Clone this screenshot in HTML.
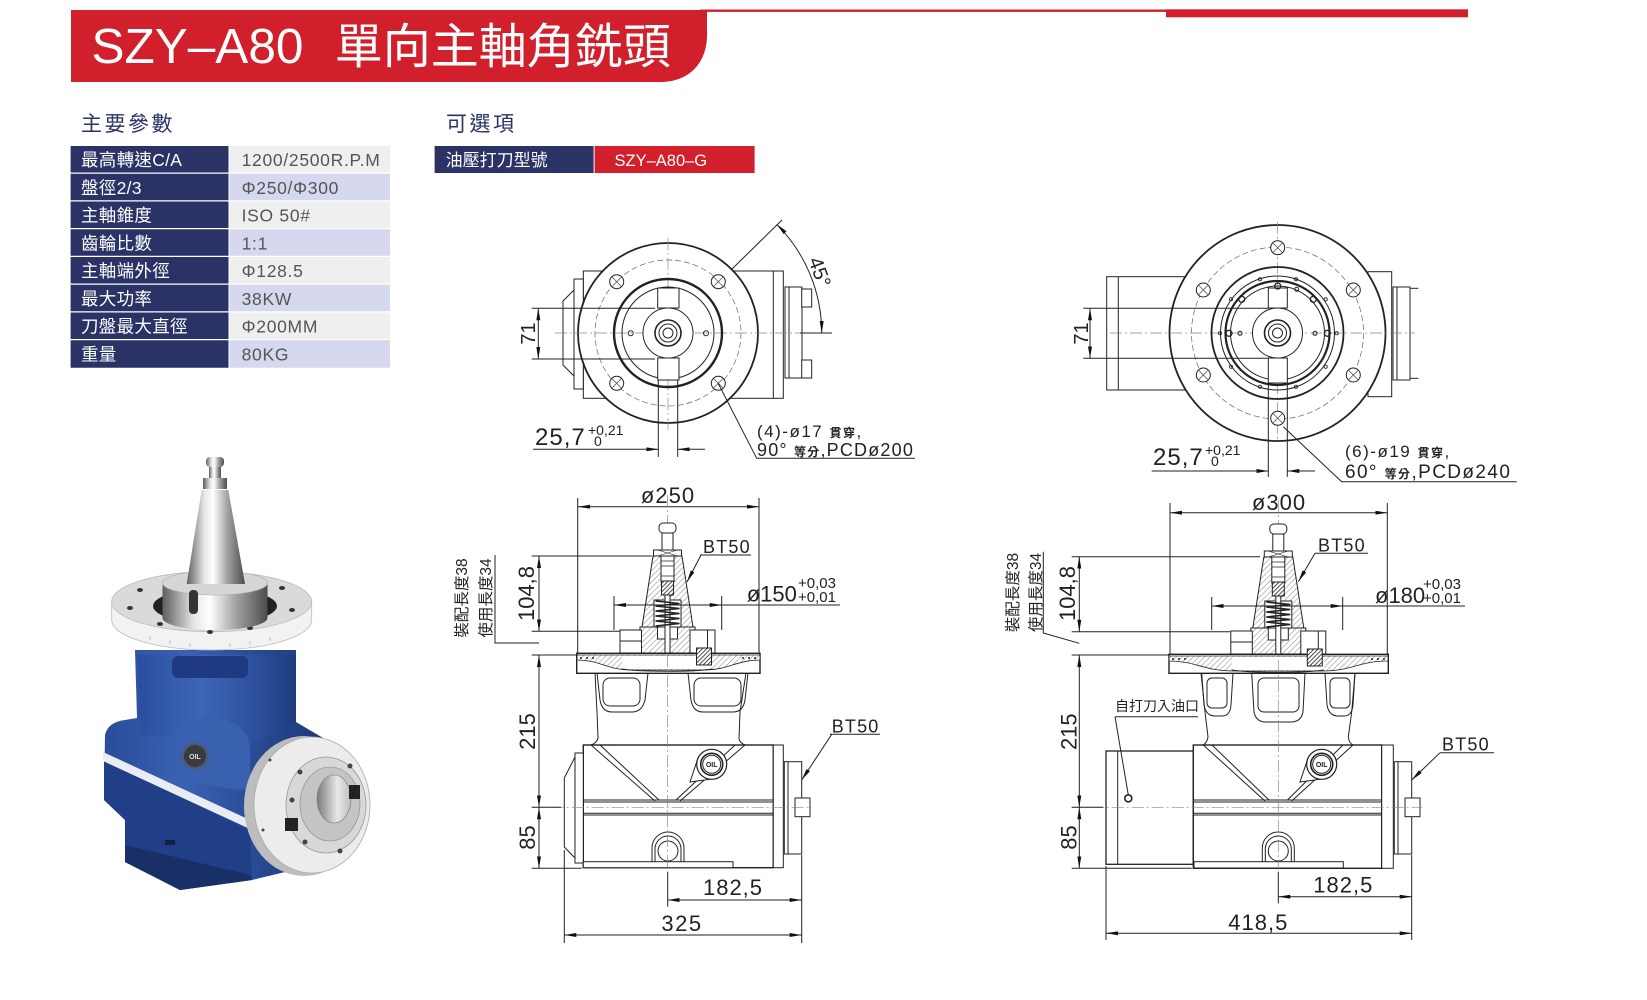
<!DOCTYPE html>
<html><head><meta charset="utf-8"><style>
html,body{margin:0;padding:0;background:#fff;}
svg{display:block;}
text{font-family:"Liberation Sans","Noto Sans CJK TC",sans-serif;}
</style></head><body>
<svg width="1647" height="1000" viewBox="0 0 1647 1000" xmlns="http://www.w3.org/2000/svg">
<defs>
 <marker id="ar" viewBox="0 0 12 4" refX="12" refY="2" markerWidth="12" markerHeight="4" markerUnits="userSpaceOnUse" orient="auto-start-reverse"><path d="M0,0 L12,2 L0,4 Z" fill="#111"/></marker>
 <pattern id="h" width="4" height="4" patternUnits="userSpaceOnUse" patternTransform="rotate(45)"><rect width="4" height="4" fill="#fff"/><line x1="0" y1="0" x2="0" y2="4" stroke="#777" stroke-width="0.9"/></pattern>
 <pattern id="hd" width="3" height="3" patternUnits="userSpaceOnUse" patternTransform="rotate(45)"><rect width="3" height="3" fill="#fff"/><line x1="0" y1="0" x2="0" y2="3" stroke="#111" stroke-width="1.5"/></pattern>
 <linearGradient id="metal" x1="0" y1="0" x2="1" y2="0"><stop offset="0" stop-color="#5e5e5e"/><stop offset=".3" stop-color="#e6e6e6"/><stop offset=".45" stop-color="#ffffff"/><stop offset=".7" stop-color="#a2a2a2"/><stop offset="1" stop-color="#4c4c4c"/></linearGradient>
 <linearGradient id="blueG" x1="0" y1="0" x2="1" y2="0"><stop offset="0" stop-color="#2a4c9a"/><stop offset=".35" stop-color="#3a62b4"/><stop offset=".7" stop-color="#26488f"/><stop offset="1" stop-color="#1b3575"/></linearGradient>
 <linearGradient id="neckG" x1="0" y1="0" x2="1" y2="0"><stop offset="0" stop-color="#2b4e9e"/><stop offset=".4" stop-color="#3d66b8"/><stop offset=".8" stop-color="#2a4c98"/><stop offset="1" stop-color="#1e3a7c"/></linearGradient>
 <linearGradient id="bore" x1="0" y1="0" x2="1" y2="0"><stop offset="0" stop-color="#7a7a7a"/><stop offset=".6" stop-color="#e8e8e8"/><stop offset="1" stop-color="#bdbdbd"/></linearGradient>
 <g id="hx"><circle r="7" fill="#fff" stroke="#222" stroke-width="1"/><path d="M-4.5,-4.5 L4.5,4.5 M4.5,-4.5 L-4.5,4.5" stroke="#444" stroke-width="0.7"/></g>
 <g id="tool" stroke="#222" stroke-width="1">
  <rect x="-8.5" y="523" width="17" height="10" rx="4" fill="#fff"/>
  <rect x="-5.5" y="533" width="11" height="17" fill="#fff"/>
  <rect x="-14" y="550" width="28" height="6" fill="#fff"/>
  <path d="M-10,550 L10,556 M10,550 L-10,556" stroke-width="0.6"/>
  <polygon points="-14.5,556 14.5,556 25.5,627 -25.5,627" fill="url(#h)"/>
  <rect x="-6.5" y="556" width="13" height="26" fill="#fff"/>
  <path d="M-6.5,561 H6.5 M-6.5,566 H6.5 M-6.5,576 H6.5" stroke-width="0.7" fill="none"/>
  <rect x="-6" y="581" width="12" height="14" fill="url(#hd)"/>
  <polygon points="-27.5,627 27.5,627 27.5,637 37.5,637 37.5,653 -37.5,653 -37.5,637 -27.5,637" fill="url(#h)"/>
  <rect x="-13.5" y="600" width="27" height="27" fill="#fff"/>
  <rect x="-10" y="627" width="20" height="12" fill="#fff"/>
  <rect x="-2.5" y="595" width="5" height="58" fill="#fff"/>
  <polyline points="-12,601 12,603.5 -12,606 12,608.5 -12,611 12,613.5 -12,616 12,618.5 -12,621 12,623.5 -12,626" fill="none" stroke-width="1.6"/>
  <rect x="-47.5" y="630" width="21.5" height="23" fill="#fff"/>
  <line x1="-47.5" y1="641" x2="-26" y2="641"/>
  <rect x="22.5" y="630" width="25" height="23" fill="#fff"/>
  <line x1="40" y1="630" x2="40" y2="653"/>
  <rect x="29" y="648" width="15" height="17" fill="url(#hd)"/>
 </g>
</defs>

<!-- ===== Banner ===== -->
<path d="M71,10 H707 V35 C707,62 690,82 660,82 H71 Z" fill="#d1202b"/>
<rect x="700" y="9.5" width="470" height="2.4" fill="#d1202b"/>
<rect x="1166" y="9.3" width="302" height="8" fill="#d1202b"/>
<text x="91.5" y="63" font-size="49.5" fill="#fff">SZY–A80</text>
<text x="334.7" y="63" font-size="48" fill="#fff">單向主軸角銑頭</text>

<!-- ===== Headings ===== -->
<text x="81" y="131" font-size="21" fill="#2b3266" letter-spacing="2.5">主要參數</text>
<text x="446" y="131" font-size="21" fill="#2b3266" letter-spacing="2.5">可選項</text>

<!-- ===== Spec table ===== -->
<g font-size="17.5">
 <rect x="70.6" y="146" width="157.9" height="26.5" fill="#2b3266"/><rect x="229.5" y="146" width="160.5" height="26.5" fill="#efefef"/>
 <rect x="70.6" y="173.75" width="157.9" height="26.5" fill="#2b3266"/><rect x="229.5" y="173.75" width="160.5" height="26.5" fill="#d5d8ee"/>
 <rect x="70.6" y="201.5" width="157.9" height="26.5" fill="#2b3266"/><rect x="229.5" y="201.5" width="160.5" height="26.5" fill="#efefef"/>
 <rect x="70.6" y="229.25" width="157.9" height="26.5" fill="#2b3266"/><rect x="229.5" y="229.25" width="160.5" height="26.5" fill="#d5d8ee"/>
 <rect x="70.6" y="257" width="157.9" height="26.5" fill="#2b3266"/><rect x="229.5" y="257" width="160.5" height="26.5" fill="#efefef"/>
 <rect x="70.6" y="284.75" width="157.9" height="26.5" fill="#2b3266"/><rect x="229.5" y="284.75" width="160.5" height="26.5" fill="#d5d8ee"/>
 <rect x="70.6" y="312.5" width="157.9" height="26.5" fill="#2b3266"/><rect x="229.5" y="312.5" width="160.5" height="26.5" fill="#efefef"/>
 <rect x="70.6" y="340.25" width="157.9" height="27.5" fill="#2b3266"/><rect x="229.5" y="340.25" width="160.5" height="27.5" fill="#d5d8ee"/>
 <g fill="#fff" letter-spacing="0.3">
  <text x="81" y="166">最高轉速C/A</text>
  <text x="81" y="194">盤徑2/3</text>
  <text x="81" y="221.5">主軸錐度</text>
  <text x="81" y="249.5">齒輪比數</text>
  <text x="81" y="277">主軸端外徑</text>
  <text x="81" y="305">最大功率</text>
  <text x="81" y="332.5">刀盤最大直徑</text>
  <text x="81" y="360.5">重量</text>
 </g>
 <g fill="#555" letter-spacing="0.7">
  <text x="241.6" y="166">1200/2500R.P.M</text>
  <text x="241.6" y="194">Φ250/Φ300</text>
  <text x="241.6" y="221.5">ISO 50#</text>
  <text x="241.6" y="249.5">1:1</text>
  <text x="241.6" y="277">Φ128.5</text>
  <text x="241.6" y="305">38KW</text>
  <text x="241.6" y="332.5">Φ200MM</text>
  <text x="241.6" y="360.5">80KG</text>
 </g>
</g>
<!-- Option table -->
<rect x="434.6" y="146" width="159" height="27" fill="#2b3266"/>
<rect x="594.6" y="146" width="160" height="27" fill="#d1202b"/>
<text x="445.6" y="166" font-size="17" fill="#fff">油壓打刀型號</text>
<text x="614.5" y="166" font-size="16.5" fill="#fff">SZY–A80–G</text>

<!-- ===== Photo ===== -->
<g>
 <path d="M105,735 Q108,722 125,720 L137,718 L135,650 L296,650 L296,722 L335,745 L335,860 L252,880 L180,890 L125,862 L125,820 L104,800 Z" fill="url(#blueG)"/>
 <polygon points="104,761 250,830 252,880 180,890 125,862 125,820 104,800" fill="#213f86"/>
 <polygon points="125,845 250,875 252,880 180,890 125,862" fill="#182f68"/>
 <polygon points="103,752 250,820 250,829 103,761" fill="#e9ecf3"/>
 <path d="M137,655 L296,655 L296,722 L250,745 L140,735 Z" fill="url(#neckG)"/>
 <rect x="172" y="656" width="76" height="22" rx="6" fill="#1f3a80"/>
 <path d="M175,735 Q180,718 210,718 Q245,720 250,745 L250,790 Q215,790 178,775 Z" fill="#3a60b0"/>
 <!-- disk -->
 <path d="M111.7,601.7 L111.7,620 A100,30 0 0 0 311.7,620 L311.7,601.7 Z" fill="#f2f2f2" stroke="#bbb" stroke-width="0.8"/>
 <ellipse cx="211.7" cy="601.7" rx="100" ry="30" fill="#dadada" stroke="#bbb" stroke-width="0.8"/>
 <g fill="#333"><ellipse cx="130" cy="608" rx="3" ry="2"/><ellipse cx="160" cy="624" rx="3" ry="2"/><ellipse cx="250" cy="628" rx="3" ry="2"/><ellipse cx="292" cy="610" rx="3" ry="2"/><ellipse cx="282" cy="588" rx="3" ry="2"/><ellipse cx="140" cy="590" rx="3" ry="2"/><ellipse cx="210" cy="632" rx="3" ry="2"/></g>
 <g stroke="#999" stroke-width="0.6"><line x1="150" y1="636" x2="150" y2="640"/><line x1="170" y1="640" x2="170" y2="644"/><line x1="190" y1="643" x2="190" y2="647"/><line x1="230" y1="643" x2="230" y2="647"/><line x1="250" y1="641" x2="250" y2="645"/><line x1="270" y1="637" x2="270" y2="641"/></g>
 <ellipse cx="215" cy="606" rx="62" ry="18" fill="#222"/>
 <!-- collar -->
 <path d="M162.5,583 L162.5,618 A52.5,12 0 0 0 267.5,618 L267.5,583 Z" fill="url(#metal)"/>
 <ellipse cx="215" cy="583" rx="52.5" ry="12" fill="#d6d6d6" stroke="#aaa" stroke-width="0.6"/>
 <rect x="189" y="590" width="9" height="24" rx="4" fill="#333"/>
 <!-- taper -->
 <polygon points="201.7,490 228.3,490 245,584 186.7,584" fill="url(#metal)"/>
 <rect x="203" y="478" width="24" height="11" fill="url(#metal)"/>
 <rect x="209" y="466" width="12" height="12" fill="url(#metal)"/>
 <rect x="206" y="457" width="18" height="10" rx="4" fill="url(#metal)"/>
 <!-- front flange -->
 <ellipse cx="304" cy="806" rx="60" ry="70" fill="#bdbdbd"/>
 <ellipse cx="312" cy="805" rx="58" ry="68" fill="#ececec" stroke="#aaa" stroke-width="0.8"/>
 <ellipse cx="326" cy="805" rx="40" ry="48" fill="#d8d8d8" stroke="#999" stroke-width="0.8"/>
 <ellipse cx="330" cy="804" rx="30" ry="37" fill="#c4c4c4" stroke="#888" stroke-width="0.6"/>
 <ellipse cx="334" cy="799" rx="17" ry="24" fill="url(#bore)" stroke="#777" stroke-width="0.6"/>
 <rect x="349" y="785" width="11" height="14" fill="#222"/>
 <rect x="285" y="818" width="13" height="13" fill="#222"/>
 <g fill="#444"><circle cx="300" cy="772" r="2.5"/><circle cx="292" cy="800" r="2.5"/><circle cx="305" cy="842" r="2.5"/><circle cx="340" cy="851" r="2.5"/><circle cx="350" cy="766" r="2.5"/><circle cx="270" cy="760" r="1.5"/><circle cx="263" cy="830" r="1.5"/></g>
 <!-- oil plug -->
 <circle cx="195" cy="756" r="14" fill="#4a5a80"/>
 <circle cx="195" cy="756" r="11" fill="#3a3a3a"/>
 <text x="195" y="759" font-size="7" fill="#ddd" text-anchor="middle" font-weight="bold">OIL</text>
 <rect x="165" y="840" width="10" height="5" fill="#0f1f48"/>
</g>

<!-- ===== Left top view ===== -->
<g stroke="#222" fill="none" stroke-width="1">
 <rect x="583.3" y="271" width="200" height="127.3" fill="#fff"/>
 <line x1="773.3" y1="271" x2="773.3" y2="398.3"/>
 <rect x="574" y="279" width="9.3" height="110" fill="#fff"/>
 <path d="M574,290 L563,301 V365 L574,376"/>
 <rect x="785" y="287" width="17" height="91" fill="#fff"/>
 <line x1="789" y1="287" x2="789" y2="378"/>
 <rect x="801.7" y="289" width="10" height="18" fill="#fff"/>
 <rect x="801.7" y="360" width="10" height="18" fill="#fff"/>
 <circle cx="668" cy="333" r="90" fill="#fff" stroke-width="1.8"/>
 <circle cx="668" cy="333" r="73" stroke="#666" stroke-width="0.7" stroke-dasharray="6 3"/>
 <g stroke="#888" stroke-width="0.7" stroke-dasharray="12 3 2 3"><line x1="555" y1="333" x2="832" y2="333"/><line x1="668" y1="238" x2="668" y2="430"/></g>
 <use href="#hx" x="616.7" y="281.7"/><use href="#hx" x="718.3" y="281.7"/><use href="#hx" x="616.7" y="383.3"/><use href="#hx" x="718.3" y="383.3"/>
 <circle cx="668" cy="333" r="54" stroke-width="2.4"/>
 <circle cx="668" cy="333" r="46"/>
 <rect x="657.7" y="288" width="21.3" height="20" fill="#fff"/>
 <rect x="657.7" y="358" width="21.3" height="22" fill="#fff"/>
 <circle cx="668" cy="333" r="25" fill="#fff"/>
 <circle cx="668" cy="333" r="13" stroke-width="1.6"/>
 <circle cx="668" cy="333" r="9"/>
 <circle cx="668" cy="333" r="5"/>
 <circle cx="630.7" cy="333.3" r="2.5"/><circle cx="706" cy="333.3" r="2.5"/>
 <line x1="731" y1="270" x2="782" y2="220"/>
 <path d="M776.7,224.3 A153.7,153.7 0 0 1 821.7,333" marker-start="url(#ar)" marker-end="url(#ar)"/>
 <line x1="800" y1="333" x2="832" y2="333"/>
 <line x1="531.7" y1="308.3" x2="655" y2="308.3"/>
 <line x1="531.7" y1="359" x2="655" y2="359"/>
 <line x1="538.3" y1="308.3" x2="538.3" y2="359" marker-start="url(#ar)" marker-end="url(#ar)"/>
 <line x1="658.3" y1="380" x2="658.3" y2="457"/>
 <line x1="677.7" y1="380" x2="677.7" y2="457"/>
 <line x1="533" y1="449.3" x2="658.3" y2="449.3" marker-end="url(#ar)"/>
 <line x1="705" y1="449.3" x2="677.7" y2="449.3" marker-end="url(#ar)"/>
 <polyline points="718,383 756.7,458.3 915,458.3"/>
</g>
<g fill="#222">
 <text transform="translate(820,272) rotate(70)" x="0" y="7" font-size="20" text-anchor="middle">45°</text>
 <text transform="translate(535,333.5) rotate(-90)" font-size="20" text-anchor="middle">71</text>
 <text x="535" y="445" font-size="24" letter-spacing="1">25,7</text>
 <text x="588" y="435" font-size="14">+0,21</text>
 <text x="594" y="446" font-size="14">0</text>
 <text x="757" y="437" font-size="17" letter-spacing="1.5">(4)-ø17 <tspan font-size="12" font-weight="bold">貫穿</tspan>,</text>
 <text x="757" y="456" font-size="18" letter-spacing="1.2">90° <tspan font-size="12" font-weight="bold">等分</tspan>,PCDø200</text>
</g>

<!-- ===== Right top view ===== -->
<g stroke="#222" fill="none" stroke-width="1">
 <rect x="1106.7" y="276.7" width="95" height="113.3" fill="#fff"/>
 <line x1="1118.3" y1="276.7" x2="1118.3" y2="390"/>
 <rect x="1368" y="271.7" width="23.7" height="125" fill="#fff"/>
 <rect x="1393" y="287" width="17" height="93" fill="#fff"/>
 <line x1="1397" y1="287" x2="1397" y2="380"/>
 <line x1="1410" y1="288.3" x2="1418.3" y2="288.3"/>
 <line x1="1410" y1="378.3" x2="1418.3" y2="378.3"/>
 <circle cx="1277.5" cy="333" r="108" fill="#fff" stroke-width="1.8"/>
 <circle cx="1277.5" cy="333" r="86" stroke="#666" stroke-width="0.7" stroke-dasharray="6 3"/>
 <g stroke="#888" stroke-width="0.7" stroke-dasharray="12 3 2 3"><line x1="1110" y1="333" x2="1415" y2="333"/><line x1="1277.5" y1="222" x2="1277.5" y2="440"/></g>
 <use href="#hx" x="1277.7" y="247.7"/><use href="#hx" x="1277.7" y="418.3"/><use href="#hx" x="1203.3" y="290"/><use href="#hx" x="1353.3" y="290"/><use href="#hx" x="1203.3" y="375"/><use href="#hx" x="1353.3" y="375"/>
 <circle cx="1277.5" cy="333" r="66" stroke-width="1.8"/>
 <circle cx="1277.5" cy="333" r="57"/>
 <circle cx="1277.5" cy="333" r="52" stroke-width="2.2"/>
 <circle cx="1277.5" cy="333" r="47"/>
 <rect x="1268.3" y="288" width="19" height="20" fill="#fff"/>
 <rect x="1268.3" y="358" width="19" height="25" fill="#fff"/>
 <circle cx="1277.5" cy="333" r="25" fill="#fff"/>
 <circle cx="1277.5" cy="333" r="13" stroke-width="1.6"/>
 <circle cx="1277.5" cy="333" r="9"/>
 <circle cx="1277.5" cy="333" r="5"/>
 <g stroke-width="1.3"><circle cx="1277.7" cy="286" r="3"/><circle cx="1241.7" cy="299.3" r="3"/><circle cx="1313.3" cy="299.3" r="3"/><circle cx="1229" cy="333.3" r="3"/><circle cx="1327.3" cy="333.3" r="3"/></g>
 <circle cx="1240" cy="333.3" r="2"/><circle cx="1315" cy="333.3" r="2"/><circle cx="1296.7" cy="289.3" r="2"/>
 <g stroke-width="0.8"><circle cx="1260" cy="279.3" r="1.6"/><circle cx="1296" cy="279.3" r="1.6"/><circle cx="1231" cy="299.3" r="1.6"/><circle cx="1325.7" cy="299.3" r="1.6"/><circle cx="1220" cy="333.3" r="1.6"/><circle cx="1336.7" cy="333.3" r="1.6"/><circle cx="1231" cy="366.7" r="1.6"/><circle cx="1325.7" cy="366.7" r="1.6"/><circle cx="1260" cy="386.7" r="1.6"/><circle cx="1296" cy="386.7" r="1.6"/></g>
 <line x1="1083.3" y1="308.3" x2="1268.3" y2="308.3"/>
 <line x1="1083.3" y1="358.3" x2="1268.3" y2="358.3"/>
 <line x1="1090" y1="308.3" x2="1090" y2="358.3" marker-start="url(#ar)" marker-end="url(#ar)"/>
 <line x1="1268.3" y1="383" x2="1268.3" y2="477"/>
 <line x1="1287.3" y1="383" x2="1287.3" y2="477"/>
 <line x1="1151.7" y1="471" x2="1268.3" y2="471" marker-end="url(#ar)"/>
 <line x1="1315" y1="471" x2="1287.3" y2="471" marker-end="url(#ar)"/>
 <polyline points="1283.3,426.7 1341.7,481.7 1516.7,481.7"/>
</g>
<g fill="#222">
 <text transform="translate(1088,333.5) rotate(-90)" font-size="20" text-anchor="middle">71</text>
 <text x="1153" y="465" font-size="24" letter-spacing="1">25,7</text>
 <text x="1205" y="455" font-size="14">+0,21</text>
 <text x="1211" y="466" font-size="14">0</text>
 <text x="1345" y="457" font-size="17" letter-spacing="1.5">(6)-ø19 <tspan font-size="12" font-weight="bold">貫穿</tspan>,</text>
 <text x="1345" y="478" font-size="19" letter-spacing="1.4">60° <tspan font-size="12" font-weight="bold">等分</tspan>,PCDø240</text>
</g>

<!-- ===== Left side view ===== -->
<g stroke="#222" fill="none" stroke-width="1">
 <line x1="577.7" y1="498" x2="577.7" y2="653"/>
 <line x1="759" y1="498" x2="759" y2="653"/>
 <line x1="578" y1="506.7" x2="759" y2="506.7" marker-start="url(#ar)" marker-end="url(#ar)"/>
 <rect x="576.7" y="653.3" width="183.3" height="20" fill="#fff" stroke-width="1.4"/>
 <path d="M577,655 H760 V660 C737,660 728,670 705,670 H632 C607,670 600,660 577,660 Z" fill="url(#h)" stroke-width="0.8"/>
 <rect x="622" y="656" width="90" height="13" fill="#fff" stroke="none"/>
 <path d="M622,669 C640,672 695,672 712,669" stroke-width="1"/>
 <g fill="#222" stroke="none"><circle cx="581" cy="658" r="1"/><circle cx="587" cy="658" r="1"/><circle cx="593" cy="658" r="1"/><circle cx="743" cy="658" r="1"/><circle cx="749" cy="658" r="1"/><circle cx="755" cy="658" r="1"/></g>
 <path d="M595,673 L597,712 L598,738 Q597,743 591,745"/>
 <path d="M746,673 L740,712 L739,739 Q740,743 745,745"/>
 <path d="M597,673 L600,700 Q602,712 612,712 L632,712 Q642,712 645,700 L648,673"/>
 <rect x="603" y="678" width="37" height="28" rx="7"/>
 <path d="M688,673 L691,700 Q693,712 703,712 L733,712 Q743,712 745,700 L748,673"/>
 <rect x="694" y="678" width="47" height="28" rx="7"/>
 <rect x="583.3" y="745" width="190" height="122.7" fill="#fff" stroke-width="1.4"/>
 <rect x="773.3" y="745" width="10" height="122.7" fill="#fff"/>
 <rect x="575" y="753" width="8.3" height="110" fill="#fff"/>
 <path d="M575,757 L564.3,778 V847 L575,858"/>
 <path d="M583.3,800 H773.3 M583.3,802 H773.3 M583.3,813.3 H773.3 M583.3,815 H773.3"/>
 <path d="M591,745 L655,801 M600,745 L659,800"/>
 <path d="M745,745 L680,801 M735,745 L676,800"/>
 <path d="M690,782 L698,758 L712,779 Z" fill="#fff"/>
 <circle cx="711.7" cy="764.3" r="15" fill="#fff" stroke-width="1.2"/>
 <circle cx="711.7" cy="764.3" r="11" stroke-width="1.6"/>
 <circle cx="711.7" cy="764.3" r="9"/>
 <path d="M652,862 V848 A16,16 0 0 1 684,848 V862"/>
 <path d="M655,862 V849 A13,13 0 0 1 681,849 V862"/>
 <circle cx="668" cy="851" r="10" fill="#fff"/>
 <rect x="583.3" y="861.7" width="149.7" height="6" fill="#fff"/>
 <rect x="784.3" y="761.7" width="17.4" height="92.3" fill="#fff"/>
 <line x1="788" y1="761.7" x2="788" y2="854"/>
 <rect x="795" y="798" width="15" height="18.7" fill="#fff"/>
 <g stroke="#888" stroke-width="0.7" stroke-dasharray="12 3 2 3"><line x1="531.7" y1="807.3" x2="812" y2="807.3"/><line x1="667.5" y1="495" x2="667.5" y2="870"/></g>
</g>
<g transform="translate(667.5,0)"><use href="#tool"/></g>
<g stroke="#222" fill="none" stroke-width="1">
 <line x1="614" y1="596" x2="614" y2="630"/>
 <line x1="721.7" y1="596" x2="721.7" y2="630"/>
 <line x1="614" y1="605" x2="721.7" y2="605" marker-start="url(#ar)" marker-end="url(#ar)"/>
 <line x1="721.7" y1="605" x2="840" y2="605"/>
 <line x1="700" y1="555" x2="751" y2="555"/>
 <line x1="701" y1="555" x2="687" y2="582" marker-end="url(#ar)"/>
 <line x1="531.7" y1="556" x2="651.7" y2="556"/>
 <line x1="531.7" y1="631.3" x2="620" y2="631.3"/>
 <line x1="531.7" y1="655" x2="576" y2="655"/>
 <line x1="539" y1="556" x2="539" y2="631.3" marker-start="url(#ar)" marker-end="url(#ar)"/>
 <polyline points="495,555 495,643 539,643"/>
 <line x1="539" y1="655" x2="539" y2="807.3" marker-start="url(#ar)" marker-end="url(#ar)"/>
 <line x1="539" y1="807.3" x2="539" y2="868.3" marker-start="url(#ar)" marker-end="url(#ar)"/>
 <line x1="531.7" y1="807.3" x2="561" y2="807.3"/>
 <line x1="531.7" y1="868.3" x2="581.7" y2="868.3"/>
 <line x1="830" y1="734.3" x2="880" y2="734.3"/>
 <line x1="831.7" y1="734.3" x2="801.7" y2="780" marker-end="url(#ar)"/>
 <line x1="667.7" y1="871.7" x2="667.7" y2="906.7"/>
 <line x1="801.7" y1="855" x2="801.7" y2="943"/>
 <line x1="667.7" y1="900" x2="801.7" y2="900" marker-start="url(#ar)" marker-end="url(#ar)"/>
 <line x1="564.3" y1="850" x2="564.3" y2="943"/>
 <line x1="564.3" y1="935" x2="801.7" y2="935" marker-start="url(#ar)" marker-end="url(#ar)"/>
</g>
<g fill="#222">
 <text x="668" y="503" font-size="22" text-anchor="middle" letter-spacing="1">ø250</text>
 <text x="703" y="553" font-size="18" letter-spacing="1.2">BT50</text>
 <text x="746.7" y="601.7" font-size="22">ø150</text>
 <text x="798" y="588" font-size="15">+0,03</text>
 <text x="798" y="602" font-size="15">+0,01</text>
 <text transform="translate(534,593.5) rotate(-90)" font-size="22" text-anchor="middle">104,8</text>
 <text transform="translate(467,598) rotate(-90)" font-size="15.5" text-anchor="middle">裝配長度38</text>
 <text transform="translate(491,598) rotate(-90)" font-size="15.5" text-anchor="middle">使用長度34</text>
 <text transform="translate(535,731.5) rotate(-90)" font-size="22" text-anchor="middle">215</text>
 <text transform="translate(535,837.5) rotate(-90)" font-size="22" text-anchor="middle">85</text>
 <text x="831.7" y="732.5" font-size="18" letter-spacing="1.2">BT50</text>
 <text x="711.7" y="767" font-size="7" font-weight="bold" text-anchor="middle">OIL</text>
 <text x="733" y="895" font-size="22" text-anchor="middle" letter-spacing="1">182,5</text>
 <text x="682" y="931" font-size="22" text-anchor="middle" letter-spacing="1.5">325</text>
</g>

<!-- ===== Right side view ===== -->
<g stroke="#222" fill="none" stroke-width="1">
 <line x1="1170" y1="503" x2="1170" y2="654"/>
 <line x1="1387.3" y1="503" x2="1387.3" y2="654"/>
 <line x1="1170" y1="512.7" x2="1387.3" y2="512.7" marker-start="url(#ar)" marker-end="url(#ar)"/>
 <rect x="1169" y="654.3" width="219.3" height="19" fill="#fff" stroke-width="1.4"/>
 <path d="M1169,656 H1388 V661 C1360,661 1350,671 1325,671 H1232 C1205,671 1195,661 1169,661 Z" fill="url(#h)" stroke-width="0.8"/>
 <rect x="1232" y="657" width="92" height="13" fill="#fff" stroke="none"/>
 <path d="M1232,670 C1250,673 1305,673 1324,670"/>
 <g fill="#222" stroke="none"><circle cx="1173" cy="659" r="1"/><circle cx="1179" cy="659" r="1"/><circle cx="1185" cy="659" r="1"/><circle cx="1372" cy="659" r="1"/><circle cx="1378" cy="659" r="1"/><circle cx="1384" cy="659" r="1"/></g>
 <path d="M1201,673 L1205,712 L1208,737 Q1207,743 1203,745"/>
 <path d="M1355,673 L1351.7,712 L1348.3,737 Q1349,743 1353,745"/>
 <path d="M1201.7,673 L1204,705 Q1206,716 1215,716 L1222,716 Q1230,716 1231,705 L1233,673"/>
 <rect x="1207" y="678" width="20" height="30" rx="5"/>
 <path d="M1251.7,673 L1254,712 Q1256,722 1266,722 L1291,722 Q1301,722 1303,712 L1305,673"/>
 <rect x="1258" y="678" width="41" height="34" rx="6"/>
 <path d="M1325,673 L1327,705 Q1329,716 1338,716 L1344,716 Q1352,716 1353,705 L1355,673"/>
 <rect x="1330" y="678" width="20" height="30" rx="5"/>
 <rect x="1106" y="751" width="87.3" height="113.3" fill="#fff" stroke-width="1.3"/>
 <line x1="1117.7" y1="751" x2="1117.7" y2="864.3"/>
 <rect x="1193.3" y="745" width="188.4" height="123.3" fill="#fff" stroke-width="1.4"/>
 <rect x="1381.7" y="745" width="11.6" height="123.3" fill="#fff"/>
 <path d="M1193.3,800 H1381.7 M1193.3,802 H1381.7 M1193.3,813.3 H1381.7 M1193.3,815 H1381.7"/>
 <path d="M1203.3,745 L1265,801 M1212,745 L1269,800"/>
 <path d="M1353,745 L1291.7,801 M1343,745 L1287.5,800"/>
 <path d="M1300,782 L1308,758 L1322,779 Z" fill="#fff"/>
 <circle cx="1321.7" cy="764.3" r="15" fill="#fff" stroke-width="1.2"/>
 <circle cx="1321.7" cy="764.3" r="11" stroke-width="1.6"/>
 <circle cx="1321.7" cy="764.3" r="9"/>
 <path d="M1262.3,862 V848 A16,16 0 0 1 1294.3,848 V862"/>
 <path d="M1265.3,862 V849 A13,13 0 0 1 1291.3,849 V862"/>
 <circle cx="1278.3" cy="851" r="10" fill="#fff"/>
 <rect x="1194" y="861.7" width="149.3" height="6.3" fill="#fff"/>
 <rect x="1394.3" y="761.7" width="17.4" height="92.3" fill="#fff"/>
 <line x1="1398" y1="761.7" x2="1398" y2="854"/>
 <rect x="1405" y="798" width="15" height="18.7" fill="#fff"/>
 <g stroke="#888" stroke-width="0.7" stroke-dasharray="12 3 2 3"><line x1="1071.7" y1="807.3" x2="1422" y2="807.3"/><line x1="1278.3" y1="500" x2="1278.3" y2="870"/></g>
 <line x1="1115" y1="716.7" x2="1198" y2="716.7"/>
 <line x1="1115" y1="716.7" x2="1128.3" y2="795"/>
 <circle cx="1128.3" cy="798.3" r="3.5" stroke-width="1.6"/>
</g>
<g transform="translate(1278.3,1)"><use href="#tool"/></g>
<g stroke="#222" fill="none" stroke-width="1">
 <line x1="1211.7" y1="597" x2="1211.7" y2="630"/>
 <line x1="1342.7" y1="597" x2="1342.7" y2="630"/>
 <line x1="1211.7" y1="606" x2="1342.7" y2="606" marker-start="url(#ar)" marker-end="url(#ar)"/>
 <line x1="1342.7" y1="606" x2="1465" y2="606"/>
 <line x1="1315" y1="553.3" x2="1368" y2="553.3"/>
 <line x1="1315" y1="553.3" x2="1298.3" y2="581.7" marker-end="url(#ar)"/>
 <line x1="1071.7" y1="556.7" x2="1260" y2="556.7"/>
 <line x1="1071.7" y1="631.7" x2="1230" y2="631.7"/>
 <line x1="1071.7" y1="655" x2="1169" y2="655"/>
 <line x1="1079.3" y1="556.7" x2="1079.3" y2="631.7" marker-start="url(#ar)" marker-end="url(#ar)"/>
 <polyline points="1043.3,551.7 1043.3,633 1079.3,643.3"/>
 <line x1="1079.3" y1="655" x2="1079.3" y2="807.3" marker-start="url(#ar)" marker-end="url(#ar)"/>
 <line x1="1079.3" y1="807.3" x2="1079.3" y2="868.3" marker-start="url(#ar)" marker-end="url(#ar)"/>
 <line x1="1071.7" y1="807.3" x2="1103.3" y2="807.3"/>
 <line x1="1071.7" y1="868.3" x2="1191.7" y2="868.3"/>
 <line x1="1440" y1="752.7" x2="1494" y2="752.7"/>
 <line x1="1440" y1="752.7" x2="1411.7" y2="780" marker-end="url(#ar)"/>
 <line x1="1278.3" y1="871.7" x2="1278.3" y2="903.3"/>
 <line x1="1411.7" y1="855" x2="1411.7" y2="940"/>
 <line x1="1278.3" y1="896.7" x2="1411.7" y2="896.7" marker-start="url(#ar)" marker-end="url(#ar)"/>
 <line x1="1106" y1="866" x2="1106" y2="940"/>
 <line x1="1106" y1="933.3" x2="1411.7" y2="933.3" marker-start="url(#ar)" marker-end="url(#ar)"/>
</g>
<g fill="#222">
 <text x="1279" y="510" font-size="22" text-anchor="middle" letter-spacing="1">ø300</text>
 <text x="1318" y="551.5" font-size="18" letter-spacing="1.2">BT50</text>
 <text x="1375" y="603" font-size="22">ø180</text>
 <text x="1423" y="589" font-size="15">+0,03</text>
 <text x="1423" y="603" font-size="15">+0,01</text>
 <text transform="translate(1075,593.5) rotate(-90)" font-size="22" text-anchor="middle">104,8</text>
 <text transform="translate(1018,592.5) rotate(-90)" font-size="15.5" text-anchor="middle">裝配長度38</text>
 <text transform="translate(1041,592.5) rotate(-90)" font-size="15.5" text-anchor="middle">使用長度34</text>
 <text transform="translate(1076.7,731.7) rotate(-90)" font-size="22" text-anchor="middle">215</text>
 <text transform="translate(1076.7,837.5) rotate(-90)" font-size="22" text-anchor="middle">85</text>
 <text x="1115" y="711" font-size="14">自打刀入油口</text>
 <text x="1442" y="750.5" font-size="18" letter-spacing="1.2">BT50</text>
 <text x="1321.7" y="767" font-size="7" font-weight="bold" text-anchor="middle">OIL</text>
 <text x="1343.3" y="892.7" font-size="22" text-anchor="middle" letter-spacing="1">182,5</text>
 <text x="1258.3" y="930" font-size="22" text-anchor="middle" letter-spacing="1">418,5</text>
</g>
</svg>
</body></html>
